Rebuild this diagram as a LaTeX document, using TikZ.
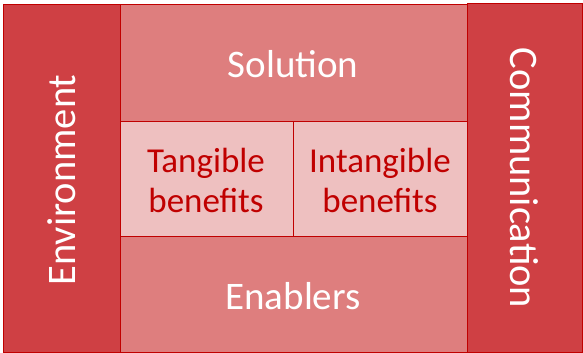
\documentclass[tikz,border=0pt]{standalone}
\usepackage{fontspec}
\setmainfont{Carlito}
\definecolor{darkfill}{HTML}{CF4044}
\definecolor{midfill}{HTML}{DE7E7E}
\definecolor{lightfill}{HTML}{EEC0C0}
\definecolor{edge}{HTML}{C00000}
\begin{document}
\begin{tikzpicture}[x=1pt,y=-1pt,
  cell/.style={draw=edge,line width=1pt},
  bigtext/.style={text=white,font=\fontsize{39}{44}\selectfont},
  sidetext/.style={text=white,font=\fontsize{40.5}{44}\selectfont},
  redtext/.style={text=edge,font=\fontsize{35}{40}\selectfont,align=center}]
\useasboundingbox (0,0) rectangle (583,353);
\fill[white] (0,0) rectangle (583,353);
\path[cell,fill=darkfill] (3,5) rectangle (120,352);
\path[cell,fill=darkfill] (467,4) rectangle (582,352);
\path[cell,fill=midfill] (120,5) rectangle (467,121);
\path[cell,fill=lightfill] (120,121) rectangle (293,236);
\path[cell,fill=lightfill] (293,121) rectangle (467,236);
\path[cell,fill=midfill] (120,236) rectangle (467,352);
\node[sidetext,rotate=90] (env) at (62,180) {Environment};
\node[sidetext,rotate=-90] (comm) at (524,178) {Communication};
\node[bigtext] (sol) at (293,64) {Solution};
\node[bigtext] (ena) at (293,296) {Enablers};
\node[redtext] (tan) at (206,180) {Tangible\\benefits};
\node[redtext] (intan) at (380,180) {Intangible\\benefits};
\end{tikzpicture}
\end{document}
